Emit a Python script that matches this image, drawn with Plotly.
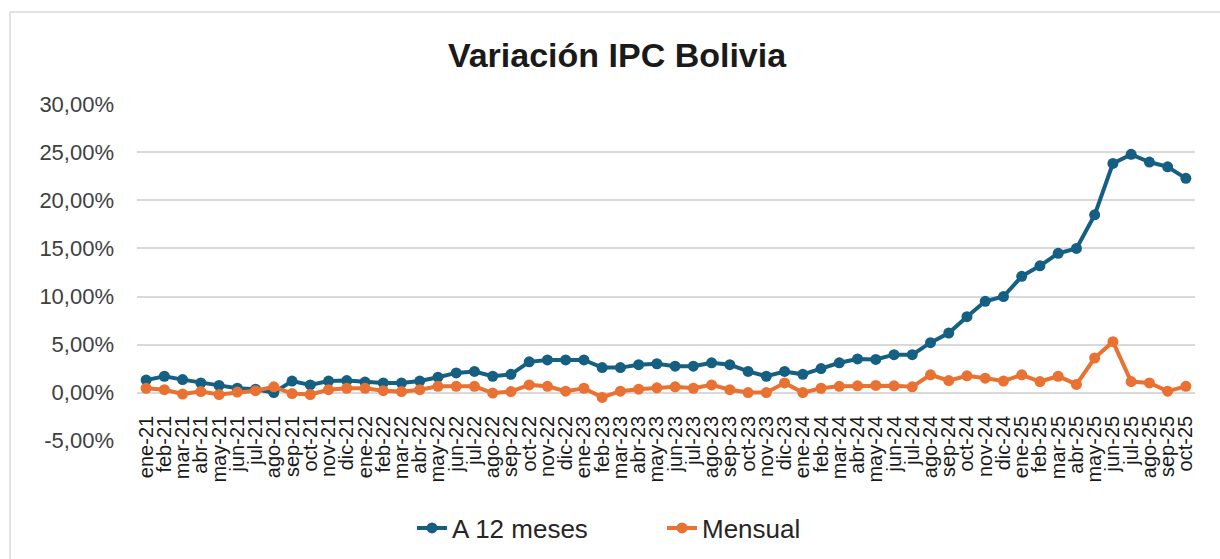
import plotly.graph_objects as go

months = ["ene", "feb", "mar", "abr", "may", "jun", "jul", "ago", "sep", "oct", "nov", "dic"]
years = ["21", "22", "23", "24", "25"]
categories = [f"{m}-{y}" for y in years for m in months][:58]

a12_meses = [1.3, 1.7, 1.35, 1.0, 0.75, 0.45, 0.35, 0.0, 1.2, 0.8, 1.2, 1.25,
             1.1, 1.0, 1.0, 1.2, 1.6, 2.05, 2.2, 1.7, 1.9, 3.2, 3.4, 3.4,
             3.4, 2.6, 2.6, 2.9, 3.0, 2.75, 2.75, 3.1, 2.9, 2.2, 1.7, 2.2,
             1.9, 2.5, 3.1, 3.5, 3.45, 3.95, 3.95, 5.2, 6.2, 7.9, 9.5, 10.0,
             12.1, 13.2, 14.5, 15.0, 18.5, 23.85, 24.8, 24.0, 23.5, 22.3]

mensual = [0.45, 0.3, -0.15, 0.1, -0.2, 0.05, 0.2, 0.6, -0.1, -0.2, 0.3, 0.45,
           0.45, 0.2, 0.1, 0.3, 0.65, 0.65, 0.65, -0.05, 0.1, 0.8, 0.65, 0.15,
           0.45, -0.5, 0.15, 0.35, 0.5, 0.6, 0.45, 0.8, 0.3, 0.0, 0.0, 1.0,
           0.0, 0.45, 0.65, 0.7, 0.75, 0.7, 0.6, 1.85, 1.25, 1.75, 1.5, 1.2,
           1.85, 1.15, 1.7, 0.85, 3.6, 5.3, 1.15, 1.0, 0.15, 0.65]

y_ticks = [-5, 0, 5, 10, 15, 20, 25, 30]
y_tick_text = ["-5,00%", "0,00%", "5,00%", "10,00%", "15,00%", "20,00%", "25,00%", "30,00%"]

BLUE = "#156082"
ORANGE = "#E97132"
FONT = "Liberation Sans, Arial, sans-serif"

fig = go.Figure()
fig.add_trace(go.Scatter(
    x=categories, y=a12_meses, name="A 12 meses", mode="lines+markers",
    line=dict(color=BLUE, width=4), marker=dict(color=BLUE, size=11),
))
fig.add_trace(go.Scatter(
    x=categories, y=mensual, name="Mensual", mode="lines+markers",
    line=dict(color=ORANGE, width=4), marker=dict(color=ORANGE, size=11),
))

y_min, y_max = -5, 30
PL, PR, PT, PB = 137, 1195, 104, 441   # plot area in page pixels
W, H = 1220, 559
pw, ph = PR - PL, PB - PT

fig.update_layout(
    width=W, height=H,
    margin=dict(l=PL, r=W - PR, t=PT, b=H - PB, autoexpand=False),
    paper_bgcolor="white", plot_bgcolor="white",
    font=dict(family=FONT, color="#404040"),
    title=dict(text="<b>Variación IPC Bolivia</b>", xref="paper", x=(617 - PL) / pw, xanchor="center",
               yref="container", y=1 - 55 / H, yanchor="middle",
               font=dict(family=FONT, size=34, color="#1a1a1a")),
    showlegend=True,
    legend=dict(orientation="h", x=(412 - PL) / pw, xanchor="left",
                y=(PB - 528) / ph, yanchor="middle",
                font=dict(family=FONT, size=26, color="#262626"),
                entrywidth=205, entrywidthmode="pixels",
                traceorder="normal"),
    xaxis=dict(
        type="category", range=[-0.5, 57.5],
        tickmode="array", tickvals=categories, ticktext=categories,
        showgrid=False, showline=False, zeroline=False,
        tickangle=-90, tickfont=dict(family=FONT, size=20, color="#1a1a1a"),
        anchor="free", position=(0 - y_min) / (y_max - y_min),
        ticks="", ticklabelstandoff=18, automargin=False,
    ),
    yaxis=dict(
        range=[y_min - 0.04, y_max + 0.04], tickvals=y_ticks, ticktext=y_tick_text,
        showgrid=True, gridcolor="#D9D9D9", gridwidth=1.5,
        zeroline=True, zerolinecolor="#D9D9D9", zerolinewidth=1.5,
        showline=False, ticks="", ticklabelstandoff=22, automargin=False,
        tickfont=dict(family=FONT, size=22, color="#404040"),
    ),
)

fig.add_shape(type="line", xref="paper", yref="paper",
              x0=(10 - PL) / pw, x1=(10 - PL) / pw, y0=-0.6, y1=(PB - 12) / ph,
              line=dict(color="#D9D9D9", width=1.5))
fig.add_shape(type="line", xref="paper", yref="paper",
              x0=(10 - PL) / pw, x1=1.1, y0=(PB - 12) / ph, y1=(PB - 12) / ph,
              line=dict(color="#D9D9D9", width=1.5))

fig.write_html("out.html", config={"displayModeBar": False},
               post_script="document.body.style.margin='0';")
